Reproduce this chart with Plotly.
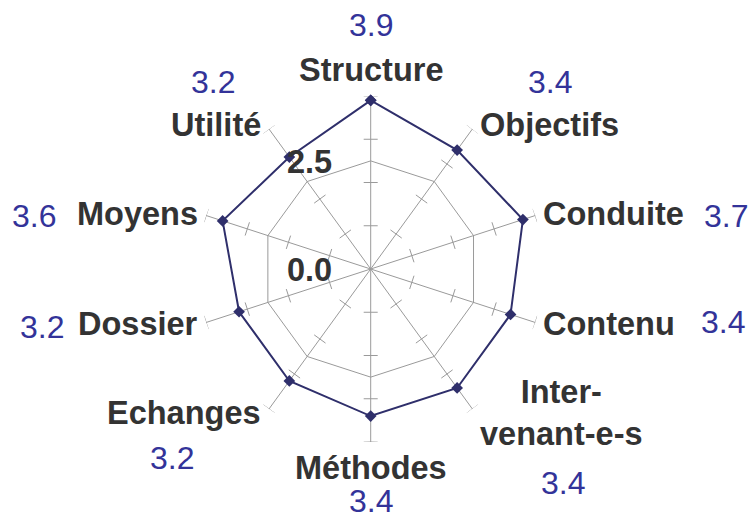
import math
import plotly.graph_objects as go

# ---- data ----
categories = ["Structure", "Objectifs", "Conduite", "Contenu", "Inter-<br>venant-e-s",
              "Méthodes", "Echanges", "Dossier", "Moyens", "Utilité"]
values = [3.9, 3.4, 3.7, 3.4, 3.4, 3.4, 3.2, 3.2, 3.6, 3.2]
radial_tick_values = [0.0, 2.5]
radial_tick_labels = ["0.0", "2.5"]
axis_tick_values = [1, 2, 3, 4]
r_max = 4
grid_ring = 2.5

# ---- layout constants ----
W, H = 752, 517
CX, CY, R = 370.7, 269.0, 173.0
LINE_COLOR = "#2f2f6b"
VALUE_COLOR = "#333399"
LABEL_COLOR = "#333333"
GRID_COLOR = "#9a9a9a"
FONT = "Liberation Sans, Arial, sans-serif"
CAT_SIZE = 32.5
VAL_SIZE = 32
# value label offsets (px, relative to spoke end) per category
VALUE_OFFSETS = [(0, -71), (78, -47), (191, 0), (188, 0), (91, 74),
                 (0, 59), (-97, 49), (-164, 5), (-172, 0), (-56, -47)]

n = len(categories)
angles = [i * 360.0 / n for i in range(n)]


def px(r, ang):
    """pixel position of polar point (r, ang clockwise from top)"""
    a = math.radians(ang)
    s = R * r / r_max
    return CX + s * math.sin(a), CY - s * math.cos(a)


def paper(x, y):
    return x / W, 1 - y / H


fig = go.Figure()

# grid ring at 2.5 (polygon)
fig.add_trace(go.Scatterpolar(
    r=[grid_ring] * (n + 1), theta=angles + [angles[0]], mode="lines",
    line=dict(color=GRID_COLOR, width=1), hoverinfo="skip", showlegend=False))

# tick marks on every spoke
h = 7.0 / (R / r_max)
tr, tt = [], []
for ang in angles:
    for rv in axis_tick_values:
        rr = math.hypot(rv, h)
        da = math.degrees(math.atan2(h, rv))
        tr += [rr, rr, None]
        tt += [ang - da, ang + da, None]
fig.add_trace(go.Scatterpolar(
    r=tr, theta=tt, mode="lines", connectgaps=False,
    line=dict(color=GRID_COLOR, width=1), hoverinfo="skip", showlegend=False))

# data series
fig.add_trace(go.Scatterpolar(
    r=values + [values[0]], theta=angles + [angles[0]], mode="lines+markers",
    line=dict(color=LINE_COLOR, width=2),
    marker=dict(symbol="diamond", size=9, color=LINE_COLOR),
    showlegend=False))

annotations = []
for i, (cat, val, ang) in enumerate(zip(categories, values, angles)):
    ex, ey = px(r_max, ang)
    s = math.sin(math.radians(ang))
    c = math.cos(math.radians(ang))
    if abs(s) < 0.1:
        lx, ly, xa = ex, ey - 26 * (1 if c > 0 else -1), "center"
    else:
        lx = ex + (6 if s > 0 else -6)
        ly = ey - 5 * c
        xa = "left" if s > 0 else "right"
    x, y = paper(lx, ly)
    annotations.append(dict(
        x=x, y=y, xref="paper", yref="paper", text="<b>%s</b>" % cat.replace("<br>", "</b><br><b>"),
        showarrow=False, xanchor=xa, yanchor="middle", align="center",
        font=dict(family=FONT, size=CAT_SIZE, color=LABEL_COLOR)))
    dx, dy = VALUE_OFFSETS[i]
    x, y = paper(ex + dx, ey + dy)
    annotations.append(dict(
        x=x, y=y, xref="paper", yref="paper", text="%.1f" % val,
        showarrow=False, xanchor="center", yanchor="middle", borderpad=0,
        font=dict(family=FONT, size=VAL_SIZE, color=VALUE_COLOR)))

for tv, tl in zip(radial_tick_values, radial_tick_labels):
    x0, y0 = px(tv, 0)
    x, y = paper(x0 - 37, y0 + 1)
    annotations.append(dict(
        x=x, y=y, xref="paper", yref="paper", text="<b>%s</b>" % tl,
        showarrow=False, xanchor="right", yanchor="middle",
        font=dict(family=FONT, size=CAT_SIZE, color=LABEL_COLOR)))

fig.update_layout(
    width=W, height=H, autosize=False,
    margin=dict(l=0, r=0, t=0, b=0),
    paper_bgcolor="white", plot_bgcolor="white",
    polar=dict(
        domain=dict(x=[(CX - R) / W, (CX + R) / W], y=[(H - CY - R) / H, (H - CY + R) / H]),
        bgcolor="white",
        radialaxis=dict(range=[0, r_max], showgrid=False, showline=False,
                        showticklabels=False, ticks=""),
        angularaxis=dict(rotation=90, direction="clockwise", tickmode="linear",
                         tick0=0, dtick=360.0 / n, showticklabels=False, ticks="",
                         showline=False, showgrid=True, gridcolor=GRID_COLOR, gridwidth=1),
    ),
    annotations=annotations,
)

fig.write_html("out.html", config={"displayModeBar": False},
               post_script="document.body.style.margin='0px';document.body.style.overflow='hidden';")
